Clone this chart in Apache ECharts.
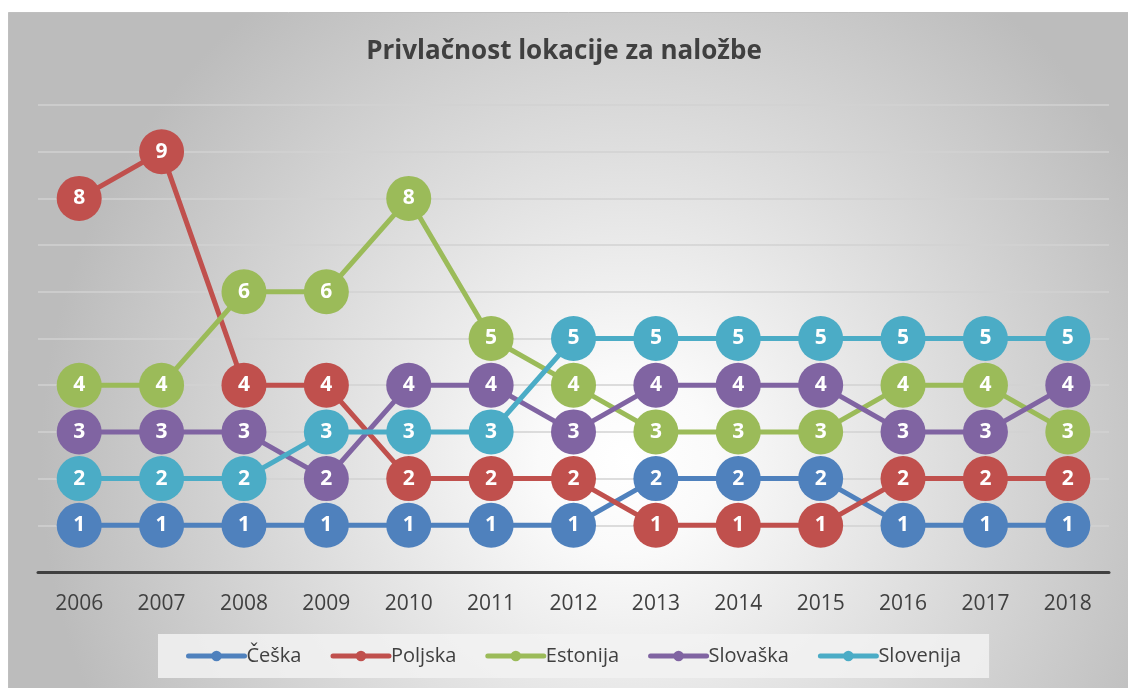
<!DOCTYPE html>
<html><head><meta charset="utf-8">
<script src="https://cdn.jsdelivr.net/npm/echarts@6/dist/echarts.min.js"></script>
<style>html,body{margin:0;padding:0;background:#fff;}#c{width:1128px;height:688px;}</style>
</head><body><div id="c"></div>
<script>
const categories = ['2006','2007','2008','2009','2010','2011','2012','2013','2014','2015','2016','2017','2018'];
const ceska     = [1,1,1,1,1,1,1,2,2,2,1,1,1];
const poljska   = [8,9,4,4,2,2,2,1,1,1,2,2,2];
const estonija  = [4,4,6,6,8,5,4,3,3,3,4,4,3];
const slovaska  = [3,3,3,2,4,4,3,4,4,4,3,3,4];
const slovenija = [2,2,2,3,3,3,5,5,5,5,5,5,5];
const seriesNames = ['Češka','Poljska','Estonija','Slovaška','Slovenija'];
const seriesData = [ceska, poljska, estonija, slovaska, slovenija];
const colors = ['#4f81bd','#c0504d','#9bbb59','#8064a2','#4bacc6'];

const chart = echarts.init(document.getElementById('c'));
const font = '"Open Sans", sans-serif';
chart.setOption({
  animation: false,
  color: colors,
  graphic: [{
    type: 'rect', z: -10, silent: true,
    shape: {x: 8.5, y: 12.5, width: 1125, height: 690},
    style: {
      fill: new echarts.graphic.RadialGradient(0.55, 0.65, 0.85, [
        {offset: 0, color: '#ffffff'},
        {offset: 0.15, color: '#fafafa'},
        {offset: 1, color: '#bcbcbc'}
      ]),
      stroke: '#bfbfbf', lineWidth: 1
    }
  }],
  title: {
    text: 'Privlačnost lokacije za naložbe',
    left: 'center', top: 34,
    textStyle: {fontFamily: font, fontSize: 26, fontWeight: 'bold', color: '#404040'}
  },
  legend: {
    data: seriesNames,
    left: 158, top: 634,
    padding: [12, 28, 12, 28],
    backgroundColor: 'rgba(242,242,242,0.85)',
    itemWidth: 56, itemHeight: 13, itemGap: 29,
    lineStyle: {width: 5, cap: 'round'},
    textStyle: {fontFamily: font, fontSize: 20, color: '#404040', padding: [0,0,0,-3]}
  },
  grid: {left: 38, right: 19, top: 105, bottom: 116, containLabel: false},
  xAxis: {
    type: 'category', data: categories, boundaryGap: true,
    axisLine: {lineStyle: {color: '#404040', width: 3}},
    axisTick: {show: false},
    axisLabel: {fontFamily: font, fontSize: 21, color: '#404040', margin: 22}
  },
  yAxis: {
    type: 'value', min: 0, max: 10, interval: 1,
    axisLine: {show: false}, axisTick: {show: false}, axisLabel: {show: false},
    splitLine: {lineStyle: {color: '#d2d2d2', width: 1.5}}
  },
  series: seriesNames.map((n, i) => ({
    name: n, type: 'line', data: seriesData[i],
    symbol: 'circle', symbolSize: 45,
    lineStyle: {width: 5, color: colors[i]},
    itemStyle: {color: colors[i]},
    label: {show: true, position: 'inside', color: '#fff', fontFamily: font, fontSize: 21, fontWeight: 'bold'},
    emphasis: {disabled: true}
  }))
});
</script></body></html>
